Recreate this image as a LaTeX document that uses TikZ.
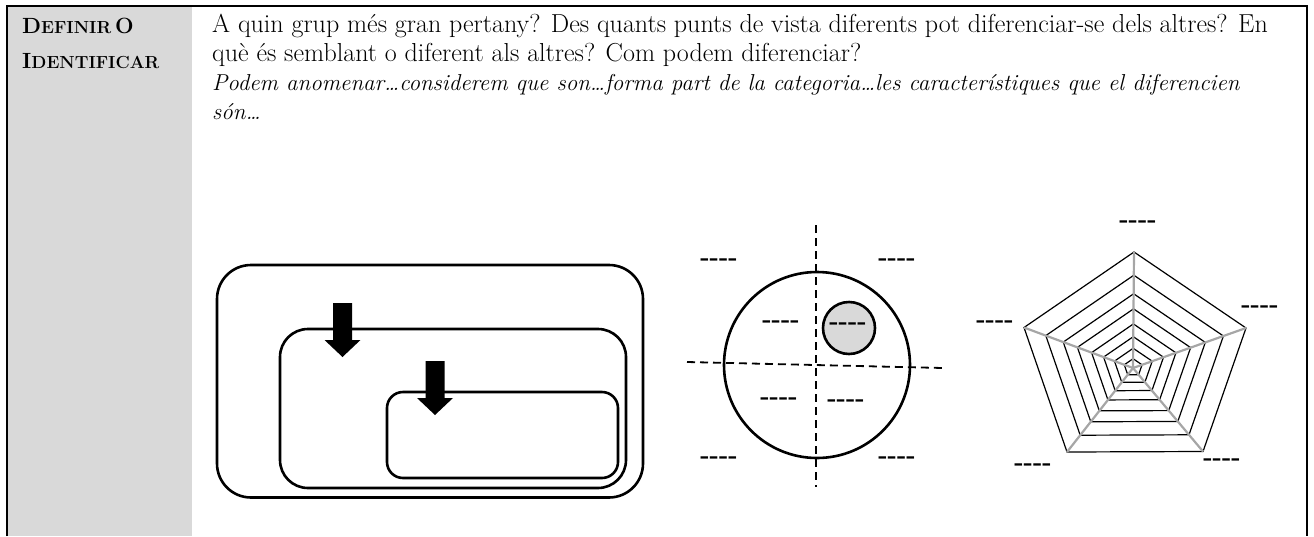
\documentclass[tikz,border=0pt]{standalone}
\usepackage{fontspec}
\usepackage{tikz}
\usetikzlibrary{calc}
\definecolor{cellgray}{HTML}{D9D9D9}
\definecolor{spokegray}{HTML}{A6A6A6}
\tikzstyle{question} = [anchor=base west, inner sep=0pt, font=\fontsize{26}{29}\selectfont]
\tikzstyle{hint} = [anchor=base west, inner sep=0pt, font=\fontsize{23}{29}\selectfont\itshape]
\tikzstyle{heading} = [anchor=base west, inner sep=0pt, font=\bfseries]
\tikzstyle{blank} = [inner sep=0pt, font=\fontsize{25}{25}\selectfont\bfseries]
\tikzstyle{box} = [line width=2.6pt, color=black]
\tikzstyle{axis} = [dash pattern=on 8pt off 5pt, line width=1.8pt]
\tikzstyle{web} = [line width=1.2pt]
\tikzstyle{spoke} = [line width=2.2pt, color=spokegray]
\newcommand{\smallcap}[2]{{\fontsize{22}{24}\selectfont #1}{\fontsize{17.5}{24}\selectfont #2}}
\newcommand{\blankword}{-{}-{}-{}-}

\begin{document}
\begin{tikzpicture}[x=1pt, y=-1pt]
    \useasboundingbox (0,0) rectangle (1314,536);

    % table cell
    \fill[cellgray] (7,5.5) rectangle (192,536);
    \draw[line width=2pt] (6.5,536) -- (6.5,5.5) -- (1307,5.5) -- (1307,536);

    % nodes
    \node (head1) [heading] at (22,33) {\smallcap{D}{EFINIR} \smallcap{O}{}};
    \node (head2) [heading] at (22,68) {\smallcap{I}{DENTIFICAR}};

    \node (line1) [question] at (212,32) {A quin grup més gran pertany? Des quants punts de vista diferents pot diferenciar-se dels altres? En};
    \node (line2) [question] at (212,61) {què és semblant o diferent als altres? Com podem diferenciar?};
    \node (line3) [hint] at (212,90) {Podem anomenar…considerem que son…forma part de la categoria…les característiques que el diferencien};
    \node (line4) [hint] at (212,119) {són…};

    % nested groups
    \draw[box, rounded corners=34pt] (217,265) rectangle (643,497.5);
    \draw[box, rounded corners=28pt] (280,329) rectangle (626,488);
    \draw[box, rounded corners=16pt] (387,392) rectangle (618,478);
    \foreach \ax/\ay in {342.5/303, 435/361}
        \fill (\ax,\ay) ++(-9.5,0) -- ++(19,0) -- ++(0,37) -- ++(8.5,0) -- ++(-18,17) -- ++(-18,-17) -- ++(8.5,0) -- cycle;

    % points of view
    \coordinate (hub) at (817,365);
    \coordinate (vtop) at (816,225);
    \coordinate (vbot) at (816,487);
    \coordinate (hleft) at (687,362);
    \coordinate (hright) at (943,368);
    \draw[box] (hub) circle[radius=93];
    \draw[box, fill=cellgray] (849,328) circle[radius=26];
    \draw[axis] (vtop) -- (vbot);
    \draw[axis] (hleft) -- (hright);

    \node (cNW) [blank] at (719,262) {\blankword};
    \node (cNE) [blank] at (897,262) {\blankword};
    \node (cA) [blank] at (781,324) {\blankword};
    \node (cB) [blank] at (848,326) {\blankword};
    \node (cC) [blank] at (779,401) {\blankword};
    \node (cD) [blank] at (846,403) {\blankword};
    \node (cSW) [blank] at (719,460) {\blankword};
    \node (cSE) [blank] at (897,460) {\blankword};

    % radar
    \coordinate (C) at (1133,368);
    \coordinate (p1) at (1134,252);
    \coordinate (p2) at (1246,328);
    \coordinate (p3) at (1203,451.5);
    \coordinate (p4) at (1067,452);
    \coordinate (p5) at (1024,327.5);
    \foreach \s in {1,0.8,0.64,0.51,0.38,0.27,0.17,0.08}
        \draw[web] ($(C)!\s!(p1)$) -- ($(C)!\s!(p2)$) -- ($(C)!\s!(p3)$) -- ($(C)!\s!(p4)$) -- ($(C)!\s!(p5)$) -- cycle;
    \foreach \i in {1,...,5}
        \draw[spoke] (C) -- (p\i);

    \node (rTop) [blank] at (1138,224) {\blankword};
    \node (rRight) [blank] at (1260,309) {\blankword};
    \node (rLeft) [blank] at (995,324) {\blankword};
    \node (rBL) [blank] at (1033,467) {\blankword};
    \node (rBR) [blank] at (1222,462) {\blankword};
\end{tikzpicture}
\end{document}
